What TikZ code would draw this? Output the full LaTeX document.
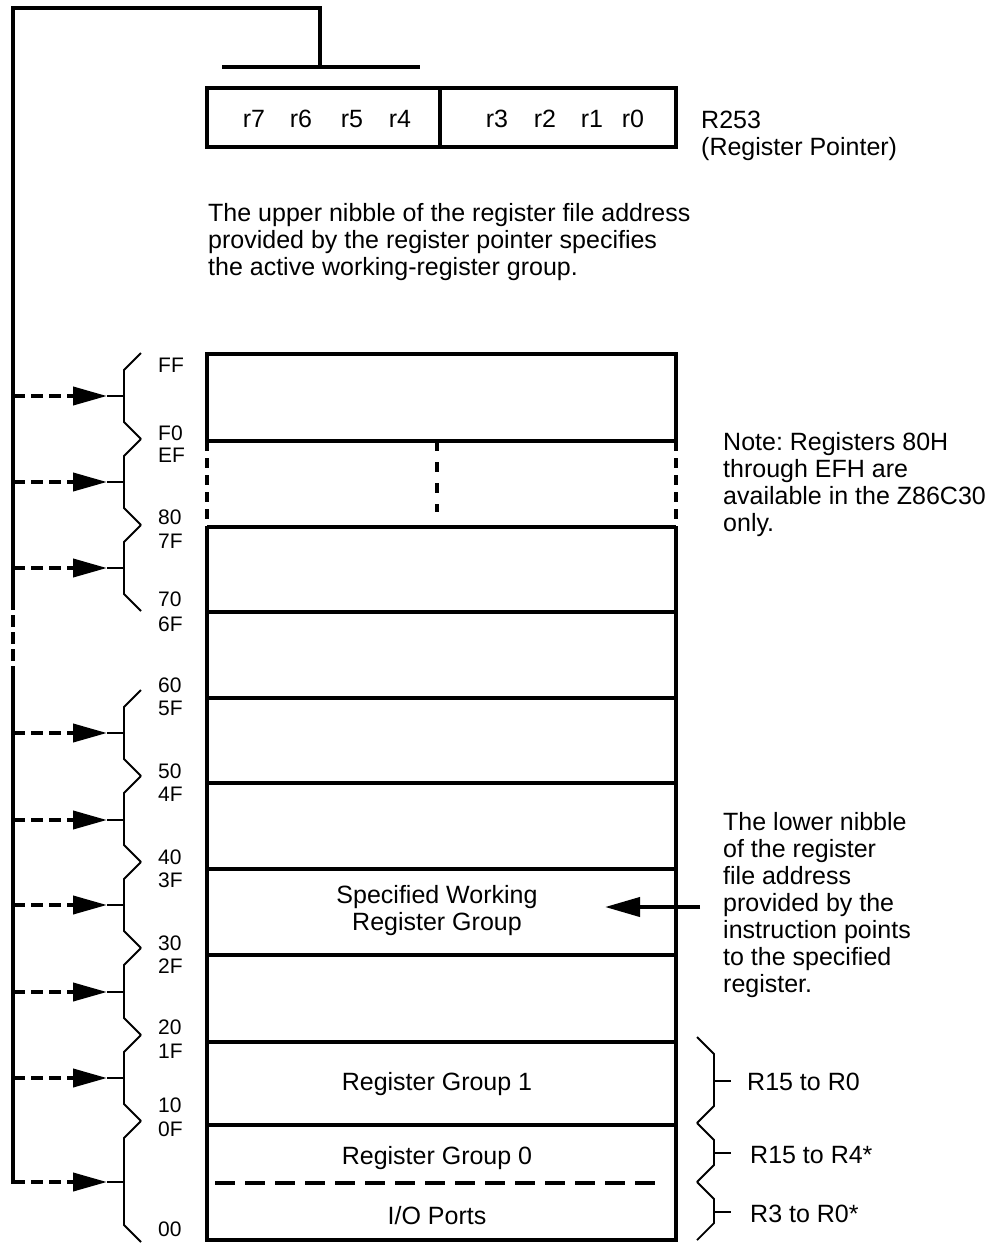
\documentclass[tikz,border=0pt]{standalone}
\usepackage{fontspec}
\setmainfont{Liberation Sans}
\usetikzlibrary{arrows.meta}
\frenchspacing

\tikzset{
  heavy/.style={line width=4pt},
  light/.style={line width=1.8pt},
  lbl/.style={inner sep=0pt,font=\fontsize{25}{27}\selectfont},
  addr/.style={inner sep=0pt,anchor=west,font=\fontsize{21}{24}\selectfont},
  feed/.style={line width=4pt,dash pattern=on 12pt off 6pt,
    -{Triangle[length=34pt,width=18pt]}},
}

\begin{document}
\begin{tikzpicture}[x=1pt,y=-1pt]
\useasboundingbox (0,0) rectangle (1000,1243);

% register pointer
\draw[heavy] (207,88) rectangle (676,147);
\draw[heavy] (440,88) -- (440,147);
\foreach \x/\t in {254/r7,301/r6,352/r5,400/r4,497/r3,545/r2,592/r1,633/r0}
  \node[lbl] (\t) at (\x,119) {\t};
\node[lbl,anchor=north west,align=left] (rp) at (701,111) {R253\\(Register Pointer)};
\node[coordinate] (bl) at (222,67) {};
\node[coordinate] (br) at (420,67) {};
\node[coordinate] (bm) at (320,67) {};
\draw[heavy] (bl) -- (br);

\node[lbl,anchor=north west,align=left] (upper) at (208,203)
  {The upper nibble of the register file address\\
   provided by the register pointer specifies\\
   the active working-register group.};

% register file
\draw[heavy] (207,354) rectangle (676,441);
\foreach \y in {527,612,698,783,869,955,1042,1125}
  \draw[heavy] (207,\y) -- (676,\y);
\draw[heavy] (207,527) -- (207,1240) -- (676,1240) -- (676,527);
\draw[heavy,dash pattern=on 10pt off 7pt] (207,441) -- (207,527);
\draw[heavy,dash pattern=on 10pt off 7pt] (676,441) -- (676,527);
\draw[heavy,dash pattern=on 10pt off 11pt] (437,441) -- (437,512);
\draw[heavy,dash pattern=on 20pt off 10pt] (215,1183) -- (665,1183);

\node[lbl,align=center] (swg) at (437,911) {Specified Working\\Register Group};
\node[lbl,anchor=base] (rg1) at (437,1090) {Register Group 1};
\node[lbl,anchor=base] (rg0) at (437,1164) {Register Group 0};
\node[lbl,anchor=base] (io) at (437,1224) {I/O Ports};

% addresses
\foreach \y/\a in {365/FF,433/F0,455/EF,517/80,541/7F,599/70,624/6F,685/60,708/5F,
  771/50,794/4F,857/40,880/3F,943/30,966/2F,1027/20,1051/1F,1105/10,1129/0F,1229/00}
  \node[addr] (a\a) at (158,\y) {\a};

% braces and pointer arrows
\foreach \t/\m/\b [count=\i] in {353/396/439,439/482/525,525/568/611,690/733/776,
  776/820/862,862/905/948,948/992/1035,1035/1078/1121,1121/1182/1242} {
  \draw[light] (141,\t) -- (124,\t+17) -- (124,\b-17) -- (141,\b);
  \node[coordinate] (g\i) at (124,\m) {};
  \node[coordinate] (p\i) at (107,\m) {};
  \node[coordinate] (q\i) at (13,\m) {};
  \draw[light] (g\i) -- (p\i);
  \draw[feed] (q\i) -- (p\i);
}

% the rail
\draw[heavy,line cap=rect] (q9) -- (13,678);
\draw[heavy,dash pattern=on 12pt off 5pt] (13,678) -- (13,597);
\draw[heavy,line cap=rect] (13,597) -- (13,8) -| (bm);

% notes
\node[lbl,anchor=north west,align=left] (note) at (723,432)
  {Note: Registers 80H\\through EFH are\\available in the Z86C30\\only.};
\node[lbl,anchor=north west,align=left] (lower) at (723,812)
  {The lower nibble\\of the register\\file address\\provided by the\\instruction points\\to the specified\\register.};
\node[coordinate] (src) at (700,907) {};
\node[coordinate] (dst) at (605,907) {};
\draw[heavy,-{Triangle[length=35pt,width=19pt]}] (src) -- (dst);

% working register ranges
\foreach \t/\m/\b [count=\i] in {1037/1081/1123,1123/1153/1182,1182/1212/1240} {
  \draw[light] (697,\t) -- (714,\t+17) -- (714,\b-17) -- (697,\b);
  \node[coordinate] (w\i) at (714,\m) {};
  \node[coordinate] (v\i) at (731,\m) {};
  \draw[light] (w\i) -- (v\i);
}
\node[lbl,anchor=base west] (rr1) at (747,1090) {R15 to R0};
\node[lbl,anchor=base west] (rr2) at (750,1163) {R15 to R4*};
\node[lbl,anchor=base west] (rr3) at (750,1222) {R3 to R0*};
\end{tikzpicture}
\end{document}
